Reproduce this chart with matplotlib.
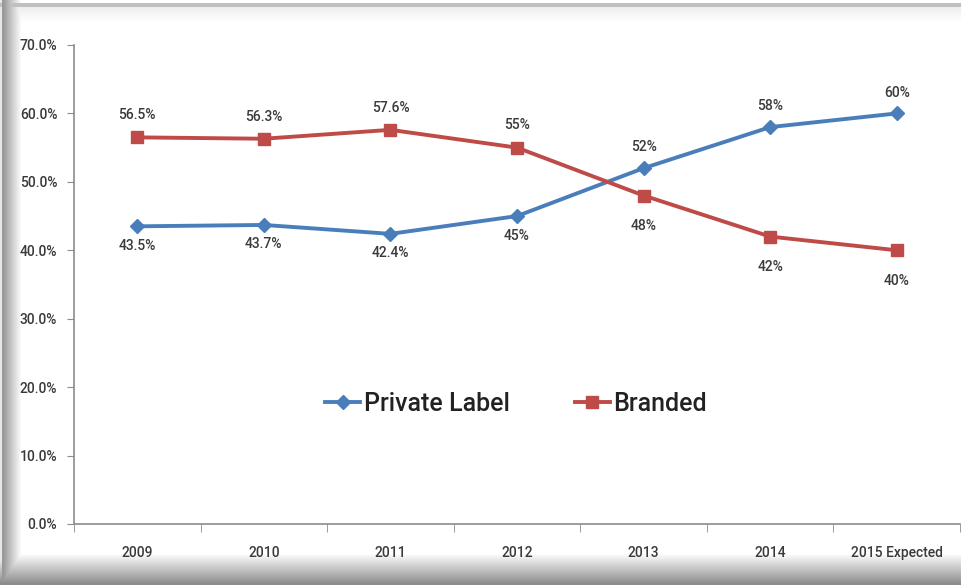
import matplotlib
matplotlib.use("Agg")
from matplotlib import pyplot as plt
import numpy as np

years = ["2009", "2010", "2011", "2012", "2013", "2014", "2015 Expected"]
private_label = [43.5, 43.7, 42.4, 45, 52, 58, 60]
branded = [56.5, 56.3, 57.6, 55, 48, 42, 40]
private_txt = ["43.5%", "43.7%", "42.4%", "45%", "52%", "58%", "60%"]
branded_txt = ["56.5%", "56.3%", "57.6%", "55%", "48%", "42%", "40%"]

plt.rcParams['font.family'] = ['Roboto', 'DejaVu Sans']

blue = "#4a7ebb"
red = "#be4b48"
axcol = "#8c8c8c"
txtcol = "#3a3a3a"

W, H = 962, 585
fig = plt.figure(figsize=(W / 100, H / 100), dpi=100)
fig.patch.set_facecolor("white")

# background: white panel with shadowed frame (left, bottom, thin top line)
xx = np.arange(W)[None, :]
yy = np.arange(H)[:, None]
left = np.clip(0.6 + 0.4 * (xx - 3) / 18.0, 0.6, 1.0)
left = np.where(xx < 2, 0.9, left)
bottom = np.clip(1.0 - 0.45 * (yy - 553) / 30.0, 0.55, 1.0)
top = np.where((yy >= 3) & (yy <= 6), 0.75, np.clip(0.93 + 0.07 * (yy - 7) / 15.0, 0.93, 1.0))
top = np.where(yy < 3, 1.0, top)
shade = np.minimum(np.minimum(left, bottom), top)
bg = fig.add_axes([0, 0, 1, 1], zorder=-5)
bg.imshow(shade, cmap="gray", vmin=0, vmax=1, aspect="auto", interpolation="bilinear")
bg.axis("off")

ax = fig.add_axes([0.0769, 0.1043, 0.9211, 0.8188])
ax.set_facecolor("none")

x = np.arange(len(years))
ax.plot(x, np.array(private_label) / 100, color=blue, lw=2.8, marker="D", ms=7.5,
        mfc=blue, mec=blue, label="Private Label", zorder=3)
ax.plot(x, np.array(branded) / 100, color=red, lw=2.8, marker="s", ms=8,
        mfc=red, mec=red, label="Branded", zorder=3)

lab = dict(ha="center", va="center", fontsize=10, color=txtcol, fontweight="medium",
           textcoords="offset points")
for i in range(len(years)):
    p = private_label[i] / 100
    b = branded[i] / 100
    if p < b:
        ax.annotate(private_txt[i], (x[i], p), xytext=(0, -14), **lab)
        ax.annotate(branded_txt[i], (x[i], b), xytext=(0, 16), **lab)
    else:
        ax.annotate(private_txt[i], (x[i], p), xytext=(0, 15), **lab)
        ax.annotate(branded_txt[i], (x[i], b), xytext=(0, -22), **lab)

ax.set_xlim(-0.5, len(years) - 0.5)
ax.set_ylim(0, 0.7)
ax.set_yticks(np.arange(0, 0.71, 0.1))
ax.set_yticklabels(["%.1f%%" % (v * 100) for v in np.arange(0, 0.71, 0.1)],
                   fontsize=10, color=txtcol, fontweight="medium")
ax.set_xticks(x)
ax.set_xticklabels(years, fontsize=10, color=txtcol, fontweight="medium")
ax.tick_params(axis="x", which="major", length=0, pad=16)
ax.set_xticks(np.arange(-0.5, len(years), 1.0), minor=True)
ax.tick_params(axis="x", which="minor", length=6, color=axcol, direction="out")
ax.tick_params(axis="y", length=5, color=axcol, direction="out", pad=7)

for s in ["top", "right"]:
    ax.spines[s].set_visible(False)
for s in ["left", "bottom"]:
    ax.spines[s].set_color(axcol)
    ax.spines[s].set_linewidth(1.2)

ax.legend(loc="center", bbox_to_anchor=(0.499, 0.25), ncol=2, frameon=False,
          prop={"size": 18, "weight": "medium"}, handlelength=1.4, handletextpad=0.15,
          columnspacing=2.6, labelcolor="#222222")

plt.savefig("out.png", dpi=100)
